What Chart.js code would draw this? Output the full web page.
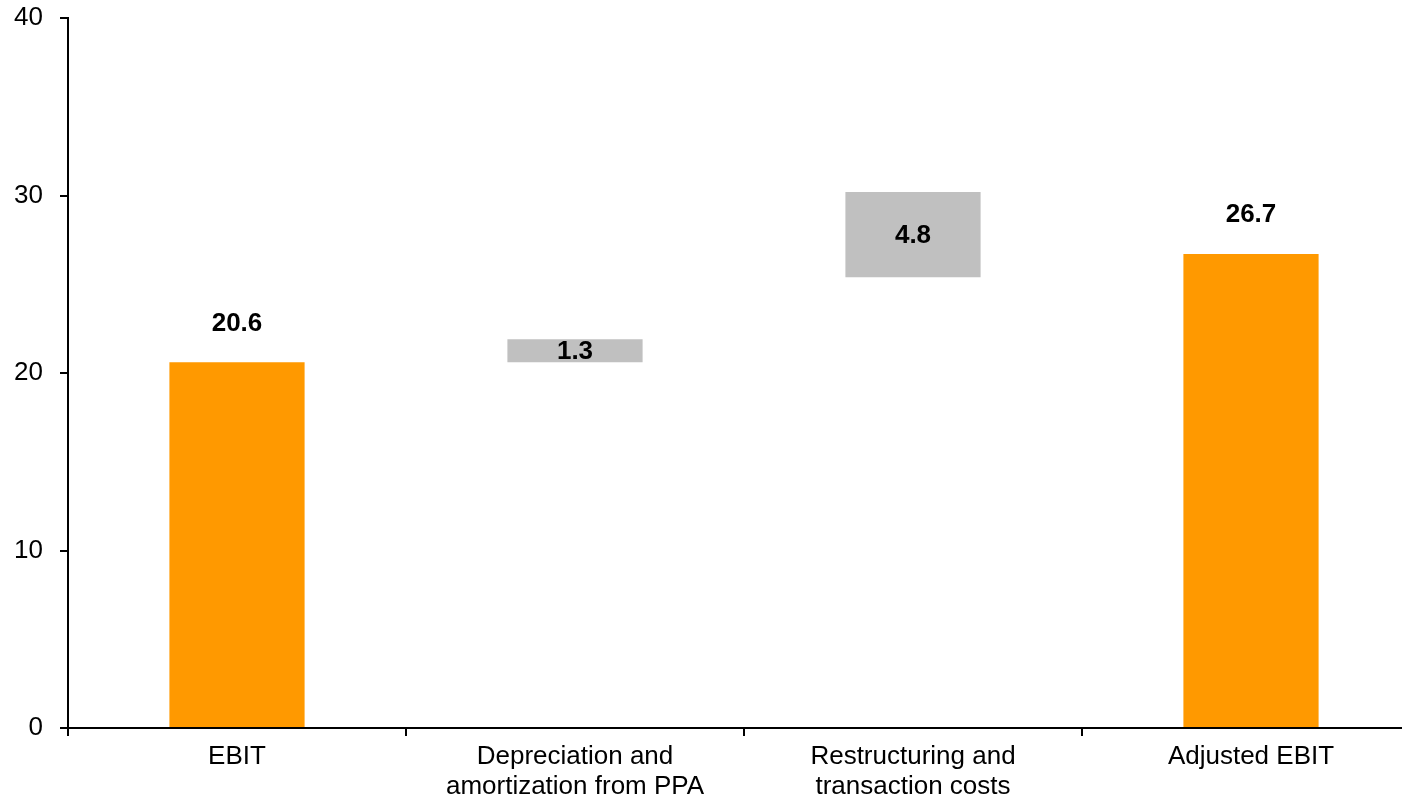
<!DOCTYPE html>
<html>
<head>
<meta charset="utf-8">
<script src="https://cdn.jsdelivr.net/npm/chart.js@4/dist/chart.umd.min.js"></script>
<style>
  html, body { margin: 0; padding: 0; background: #ffffff; overflow: hidden; }
  #wrap { width: 1420px; height: 802px; }
</style>
</head>
<body>
<div id="wrap"><canvas id="c" width="1420" height="802"></canvas></div>
<script>
// EBIT bridge (waterfall)
const categories = ['EBIT', ['Depreciation and', 'amortization from PPA'], ['Restructuring and', 'transaction costs'], 'Adjusted EBIT'];
const barStarts = [0, 20.6, 25.4, 0];
const barValues = [20.6, 1.3, 4.8, 26.7];
const barKinds = ['total', 'step', 'step', 'total'];
const yTicks = [0, 10, 20, 30, 40];

const ORANGE = '#FF9900';
const GREY = '#C0C0C0';
const FONT = '"Liberation Sans", Arial, sans-serif';

const floating = barStarts.map((s, i) => [s, +(s + barValues[i]).toFixed(2)]);

const valueLabels = {
  id: 'valueLabels',
  afterDatasetsDraw(chart) {
    const ctx = chart.ctx;
    const meta = chart.getDatasetMeta(0);
    ctx.save();
    ctx.font = 'bold 26px ' + FONT;
    ctx.fillStyle = '#000000';
    ctx.textAlign = 'center';
    ctx.textBaseline = 'middle';
    meta.data.forEach((bar, i) => {
      const p = bar.getProps(['x', 'y', 'base'], true);
      const top = Math.min(p.y, p.base);
      const bottom = Math.max(p.y, p.base);
      const txt = barValues[i].toFixed(1);
      if (barKinds[i] === 'total') {
        ctx.fillText(txt, p.x, top - 39);
      } else {
        ctx.fillText(txt, p.x, (top + bottom) / 2 + 1);
      }
    });
    ctx.restore();
  }
};

function fixPadding(scale) {
  scale.paddingTop = 0;
  scale.paddingBottom = 0;
  scale.paddingLeft = 0;
  scale.paddingRight = 0;
}

new Chart(document.getElementById('c'), {
  type: 'bar',
  data: {
    labels: categories,
    datasets: [{
      data: floating,
      backgroundColor: barKinds.map(k => k === 'total' ? ORANGE : GREY),
      borderWidth: 0,
      barPercentage: 0.4,
      categoryPercentage: 1.0
    }]
  },
  options: {
    responsive: false,
    animation: false,
    layout: { autoPadding: false, padding: { top: 18, left: 0, right: 0, bottom: 0 } },
    plugins: {
      legend: { display: false },
      tooltip: { enabled: false }
    },
    scales: {
      x: {
        border: { display: true, color: '#000000', width: 2 },
        grid: {
          offset: true,
          drawOnChartArea: false,
          drawTicks: true,
          tickLength: 8,
          color: '#000000',
          lineWidth: 2
        },
        ticks: {
          color: '#000000',
          font: { family: FONT, size: 26, lineHeight: 1.15 },
          padding: 6,
          maxRotation: 0,
          autoSkip: false
        },
        afterFit(scale) { scale.height = 74; fixPadding(scale); }
      },
      y: {
        min: 0,
        max: 40,
        afterBuildTicks(scale) { scale.ticks = yTicks.map(v => ({ value: v })); },
        border: { display: true, color: '#000000', width: 2 },
        grid: {
          drawOnChartArea: false,
          drawTicks: true,
          tickLength: 8,
          color: '#000000',
          lineWidth: 2
        },
        ticks: {
          color: '#000000',
          font: { family: FONT, size: 26 },
          padding: 17
        },
        afterFit(scale) { scale.width = 68; fixPadding(scale); }
      }
    }
  },
  plugins: [valueLabels]
});
</script>
</body>
</html>
